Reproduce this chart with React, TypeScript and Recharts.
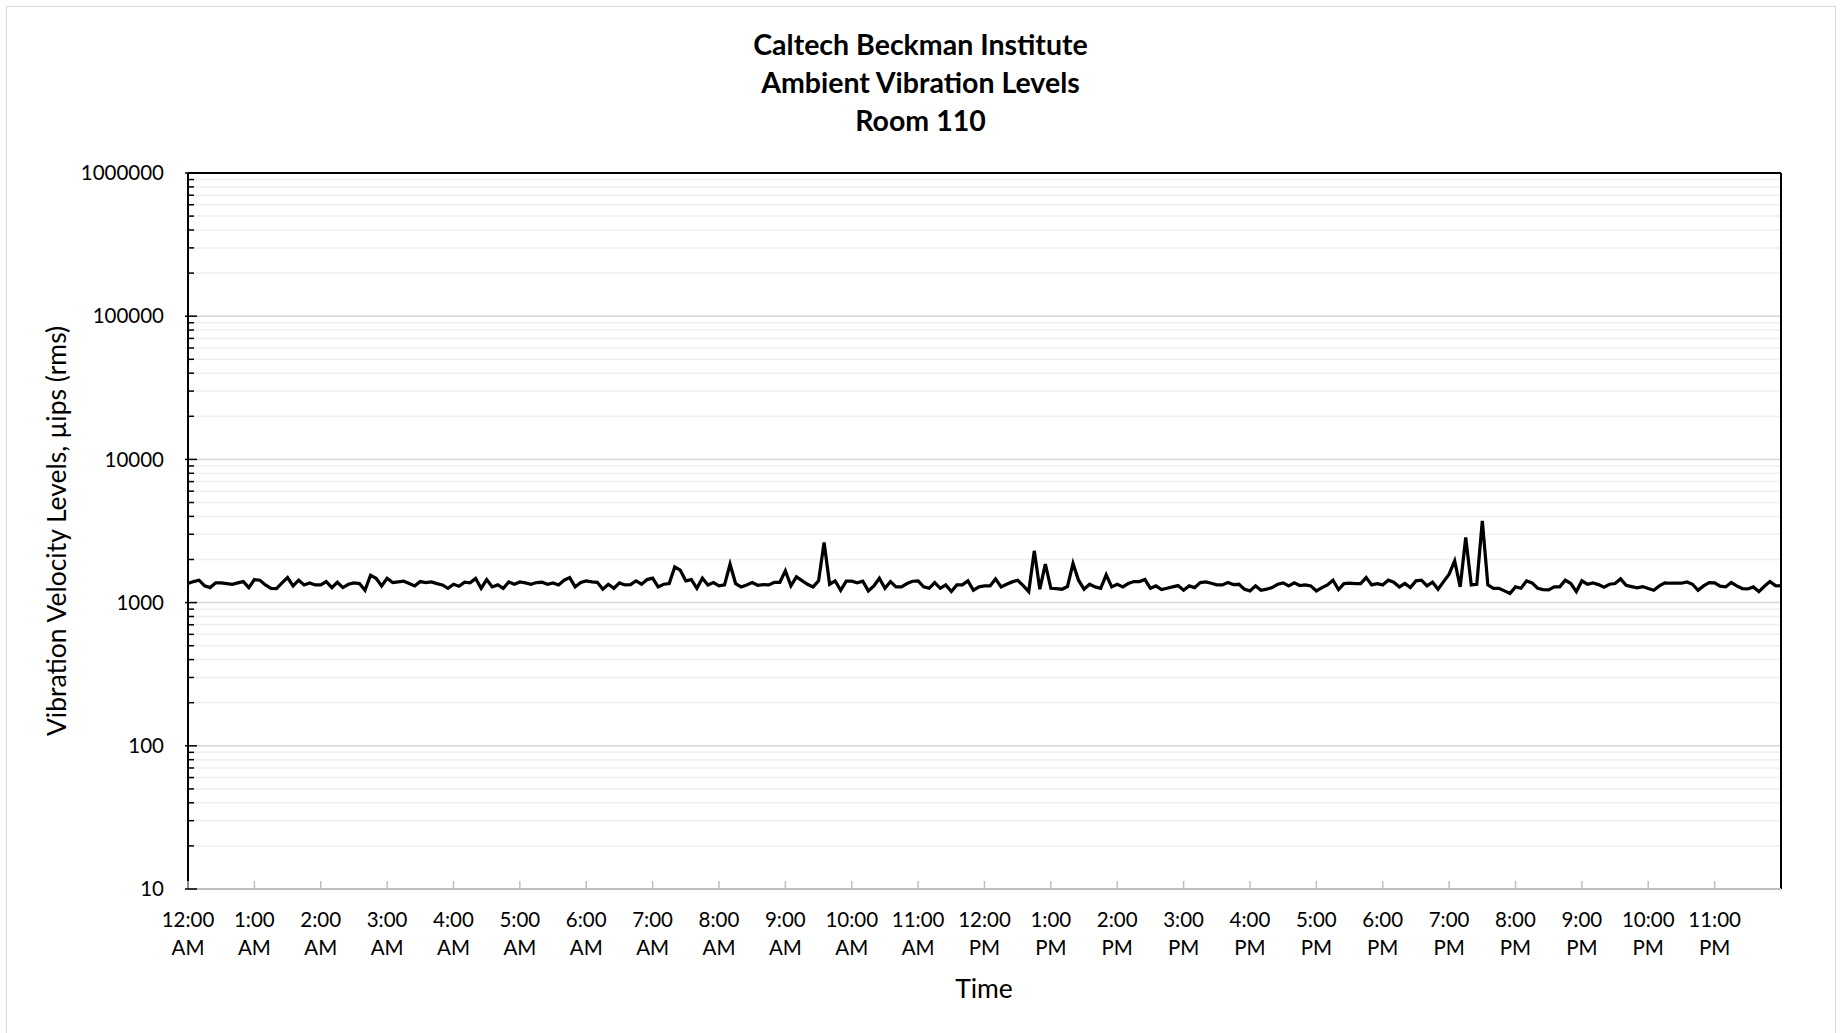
import { LineChart, Line, XAxis, YAxis, ReferenceLine } from "recharts";

// 5-minute rms readings, one array per 4-hour block
const block0 = [
  1358, 1402, 1433, 1308, 1273, 1373, 1373, 1358, 1343, 1373, 1402, 1273,
  1448, 1433, 1329, 1259, 1253, 1373, 1496, 1308, 1433, 1329, 1373, 1329,
  1329, 1402, 1273, 1387, 1273, 1343, 1373, 1358, 1220, 1553, 1480, 1308,
  1480, 1380, 1395, 1410, 1358, 1308, 1402, 1380, 1395, 1358, 1329, 1259,
];
const block1 = [
  1343, 1301, 1387, 1373, 1472, 1259, 1448, 1287, 1329, 1259, 1395, 1343,
  1395, 1373, 1343, 1380, 1387, 1343, 1373, 1329, 1433, 1496, 1287, 1380,
  1418, 1395, 1387, 1240, 1343, 1259, 1373, 1329, 1336, 1418, 1343, 1448,
  1480, 1287, 1343, 1358, 1776, 1683, 1418, 1448, 1259, 1480, 1329, 1380,
];
const block2 = [
  1308, 1329, 1854, 1358, 1287, 1329, 1380, 1322, 1336, 1329, 1387, 1387,
  1665, 1308, 1512, 1425, 1343, 1287, 1418, 2628, 1343, 1418, 1220, 1410,
  1410, 1373, 1410, 1207, 1308, 1480, 1259, 1402, 1287, 1287, 1358, 1410,
  1418, 1287, 1259, 1380, 1259, 1329, 1194, 1329, 1329, 1418, 1220, 1287,
];
const block3 = [
  1308, 1308, 1464, 1287, 1343, 1395, 1433, 1315, 1194, 2298, 1240, 1854,
  1259, 1253, 1240, 1294, 1874, 1433, 1240, 1343, 1287, 1259, 1561, 1287,
  1343, 1287, 1358, 1402, 1402, 1448, 1259, 1308, 1233, 1259, 1287, 1315,
  1220, 1308, 1273, 1380, 1395, 1365, 1329, 1329, 1380, 1336, 1343, 1240,
];
const block4 = [
  1207, 1308, 1220, 1240, 1273, 1343, 1373, 1308, 1373, 1315, 1329, 1308,
  1207, 1273, 1329, 1433, 1233, 1358, 1365, 1358, 1358, 1496, 1329, 1358,
  1329, 1433, 1387, 1287, 1358, 1273, 1418, 1433, 1308, 1387, 1240, 1402,
  1578, 1955, 1287, 2848, 1329, 1343, 3725, 1329, 1259, 1259, 1207, 1156,
];
const block5 = [
  1287, 1259, 1418, 1373, 1259, 1233, 1226, 1287, 1287, 1433, 1358, 1194,
  1418, 1343, 1373, 1336, 1280, 1343, 1358, 1464, 1322, 1294, 1266, 1294,
  1253, 1220, 1308, 1373, 1365, 1365, 1365, 1395, 1343, 1220, 1308, 1380,
  1373, 1301, 1287, 1380, 1308, 1253, 1246, 1287, 1194, 1301, 1402, 1315,
  1308,
];

const hourLabels = [
  "12:00", "1:00", "2:00", "3:00", "4:00", "5:00", "6:00", "7:00", "8:00", "9:00", "10:00", "11:00",
  "12:00", "1:00", "2:00", "3:00", "4:00", "5:00", "6:00", "7:00", "8:00", "9:00", "10:00", "11:00",
];
const meridiem = [
  "AM", "AM", "AM", "AM", "AM", "AM", "AM", "AM", "AM", "AM", "AM", "AM",
  "PM", "PM", "PM", "PM", "PM", "PM", "PM", "PM", "PM", "PM", "PM", "PM",
];
const decades = [10, 100, 1000, 10000, 100000, 1000000];
const minorSteps = [2, 3, 4, 5, 6, 7, 8, 9];

const readings = [...block0, ...block1, ...block2, ...block3, ...block4, ...block5];
const data = readings.map((v, i) => ({ minute: i * 5, velocity: v }));
const hourTicks = hourLabels.map((_, h) => h * 60);
const minorTicks = decades.slice(0, -1).flatMap((d) => minorSteps.map((m) => d * m));
const allYTicks = [...decades, ...minorTicks].sort((a, b) => a - b);

const FONT = "Lato, 'Open Sans', sans-serif";

const HourTick = (props: any) => {
  const { x, y, payload } = props;
  const h = Math.round(payload.value / 60);
  return (
    <g>
      <line x1={x} y1={y} x2={x} y2={y - 8} stroke="#bfbfbf" strokeWidth={1.5} />
      <text x={x} y={y + 38} textAnchor="middle" fontSize={20.5} fontFamily={FONT} fill="#000">
        {hourLabels[h]}
      </text>
      <text x={x} y={y + 66} textAnchor="middle" fontSize={20.5} fontFamily={FONT} fill="#000">
        {meridiem[h]}
      </text>
    </g>
  );
};

const VelocityTick = (props: any) => {
  const { x, y, payload } = props;
  const major = decades.includes(payload.value);
  return (
    <g>
      <line
        x1={major ? x - 3 : x}
        y1={y}
        x2={major ? x + 9 : x + 6}
        y2={y}
        stroke="#000"
        strokeWidth={1.5}
      />
      {major && (
        <text x={x - 24} y={y} dy="0.35em" textAnchor="end" fontSize={20.5} fontFamily={FONT} fill="#000">
          {payload.value}
        </text>
      )}
    </g>
  );
};

export default function App() {
  return (
    <div
      style={{
        position: "absolute",
        left: 0,
        top: 0,
        width: 1841,
        height: 1033,
        background: "#fff",
        overflow: "hidden",
        fontFamily: FONT,
      }}
    >
      <div
        style={{
          position: "absolute",
          left: 6,
          top: 6,
          width: 1828,
          height: 1040,
          border: "1.5px solid #d9d9d9",
        }}
      />
      <div
        style={{
          position: "absolute",
          left: 0,
          width: 1841,
          top: 25,
          textAlign: "center",
          fontWeight: 700,
          fontSize: 28.5,
          lineHeight: "38px",
          color: "#000",
        }}
      >
        <div>Caltech Beckman Institute</div>
        <div>Ambient Vibration Levels</div>
        <div>Room 110</div>
      </div>

      <div style={{ position: "absolute", left: 0, top: 0 }}>
        <LineChart
          width={1841}
          height={1033}
          data={data}
          margin={{ top: 173, right: 60, left: 0, bottom: 0 }}
        >
          {minorTicks.map((v) => (
            <ReferenceLine key={`m${v}`} y={v} stroke="#efefef" strokeWidth={1.5} />
          ))}
          {decades.slice(1, -1).map((v) => (
            <ReferenceLine key={`d${v}`} y={v} stroke="#d6d6d6" strokeWidth={1.5} />
          ))}
          <ReferenceLine y={1000000} stroke="#000" strokeWidth={2} />
          <ReferenceLine x={1440} stroke="#000" strokeWidth={2} />
          <XAxis
            dataKey="minute"
            type="number"
            domain={[0, 1440]}
            ticks={hourTicks}
            interval={0}
            height={144}
            tickSize={0}
            tickMargin={0}
            tickLine={false}
            axisLine={{ stroke: "#bfbfbf", strokeWidth: 2 }}
            tick={(p: any) => <HourTick {...p} />}
          />
          <YAxis
            type="number"
            scale="log"
            domain={[10, 1000000]}
            allowDataOverflow
            ticks={allYTicks}
            interval={0}
            width={188}
            tickSize={0}
            tickMargin={0}
            tickLine={false}
            axisLine={{ stroke: "#000", strokeWidth: 2 }}
            tick={(p: any) => <VelocityTick {...p} />}
          />
          <Line
            type="linear"
            dataKey="velocity"
            stroke="#000"
            strokeWidth={3.25}
            dot={false}
            isAnimationActive={false}
          />
        </LineChart>
      </div>

      <div
        style={{
          position: "absolute",
          left: 884,
          width: 200,
          top: 970,
          textAlign: "center",
          fontSize: 26.5,
          lineHeight: "36px",
          color: "#000",
        }}
      >
        Time
      </div>
      <div
        style={{
          position: "absolute",
          left: 56,
          top: 531,
          transform: "translate(-50%, -50%) rotate(-90deg)",
          whiteSpace: "nowrap",
          fontSize: 26.5,
          color: "#000",
        }}
      >
        Vibration Velocity Levels, µips (rms)
      </div>
    </div>
  );
}
